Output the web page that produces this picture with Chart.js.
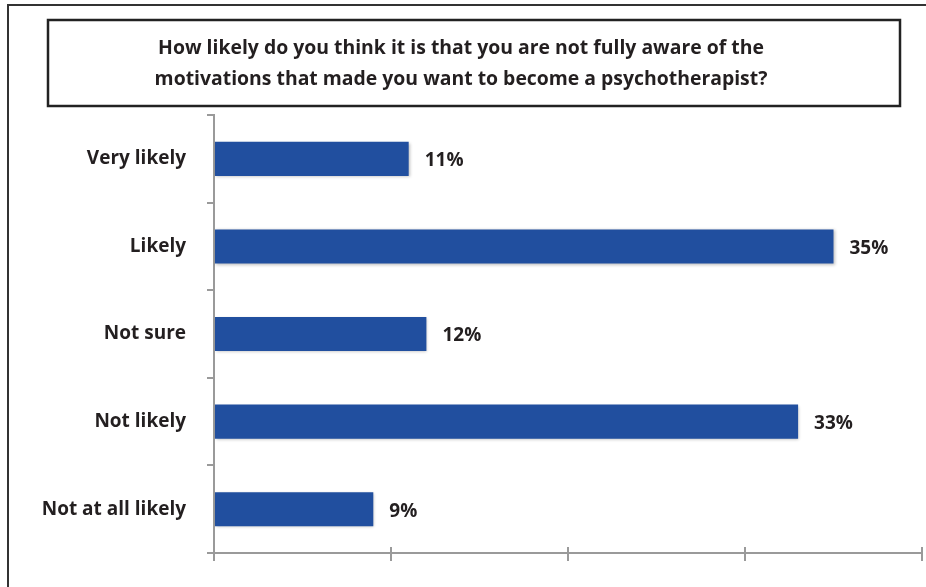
<!DOCTYPE html>
<html>
<head>
<meta charset="utf-8">
<script src="https://cdn.jsdelivr.net/npm/chart.js@4.4.0/dist/chart.umd.min.js"></script>
<style>
  html, body { margin: 0; padding: 0; background: #fff; }
  #wrap { width: 926px; height: 587px; }
</style>
</head>
<body>
<div id="wrap"><canvas id="likelyBar"></canvas></div>
<script>
const categories = ["Very likely", "Likely", "Not sure", "Not likely", "Not at all likely"];
const percentages = [11, 35, 12, 33, 9];
const titleLines = [
  "How likely do you think it is that you are not fully aware of the",
  "motivations that made you want to become a psychotherapist?"
];

const textColor = "#231f20";
const axisColor = "#9a9a9a";
const fontFamily = "'Open Sans', sans-serif";

// frame around the page + box around the title
const framePlugin = {
  id: "frame",
  beforeDraw(chart) {
    const ctx = chart.ctx;
    ctx.save();
    ctx.strokeStyle = "#333";
    ctx.lineWidth = 2;
    ctx.beginPath();
    ctx.moveTo(8, chart.height);
    ctx.lineTo(8, 5);
    ctx.lineTo(chart.width, 5);
    ctx.stroke();
    ctx.strokeStyle = "#222";
    ctx.lineWidth = 2.5;
    ctx.strokeRect(48, 20, 852, 86);
    ctx.restore();
  },
};

// small shadow under bars
const shadowPlugin = {
  id: "barShadow",
  beforeDatasetsDraw(chart) {
    const ctx = chart.ctx;
    ctx.save();
    ctx.shadowColor = "rgba(0,0,0,0.25)";
    ctx.shadowBlur = 3;
    ctx.shadowOffsetX = 1;
    ctx.shadowOffsetY = 1;
  },
  afterDatasetsDraw(chart) {
    chart.ctx.restore();
  },
};

// value labels + upward half of the x ticks
const labelPlugin = {
  id: "valueLabels",
  afterDraw(chart) {
    const ctx = chart.ctx;
    const meta = chart.getDatasetMeta(0);
    ctx.save();
    ctx.fillStyle = textColor;
    ctx.font = "bold 19px " + fontFamily;
    ctx.textBaseline = "middle";
    ctx.textAlign = "left";
    meta.data.forEach((bar, i) => {
      ctx.fillText(percentages[i] + "%", bar.x + 16, bar.y + 2);
    });
    const xs = chart.scales.x;
    ctx.strokeStyle = axisColor;
    ctx.lineWidth = 2;
    xs.ticks.forEach((t) => {
      const px = xs.getPixelForValue(t.value);
      ctx.beginPath();
      ctx.moveTo(px, xs.top);
      ctx.lineTo(px, xs.top - 6);
      ctx.stroke();
    });
    ctx.restore();
  },
};

const likelyConfig = {
  type: "bar",
  data: {
    labels: categories,
    datasets: [
      {
        data: percentages,
        backgroundColor: "#214f9f",
        borderWidth: 0,
        categoryPercentage: 1,
        barPercentage: 0.39,
      },
    ],
  },
  options: {
    indexAxis: "y",
    responsive: true,
    maintainAspectRatio: false,
    animation: false,
    layout: { padding: { top: 0, right: 4, bottom: 26, left: 0 } },
    plugins: {
      legend: { display: false },
      tooltip: { enabled: false },
      title: {
        display: true,
        text: titleLines,
        color: textColor,
        font: { family: fontFamily, size: 19.4, weight: "bold", lineHeight: 1.6 },
        padding: { top: 33, bottom: 20 },
      },
    },
    scales: {
      x: {
        min: 0,
        max: 40,
        ticks: { stepSize: 10, display: false },
        grid: { drawOnChartArea: false, drawTicks: true, tickLength: 8, color: axisColor, lineWidth: 2 },
        border: { display: true, color: axisColor, width: 2 },
      },
      y: {
        offset: true,
        ticks: {
          color: textColor,
          padding: 21,
          font: { family: fontFamily, size: 19, weight: "bold" },
        },
        grid: { offset: true, drawOnChartArea: false, drawTicks: true, tickLength: 7, color: axisColor, lineWidth: 2 },
        border: { display: true, color: axisColor, width: 2 },
        afterFit(scale) {
          scale.width = 214;
        },
      },
    },
  },
  plugins: [framePlugin, shadowPlugin, labelPlugin],
};

const likelyChart = new Chart(document.getElementById("likelyBar"), likelyConfig);
</script>
</body>
</html>
